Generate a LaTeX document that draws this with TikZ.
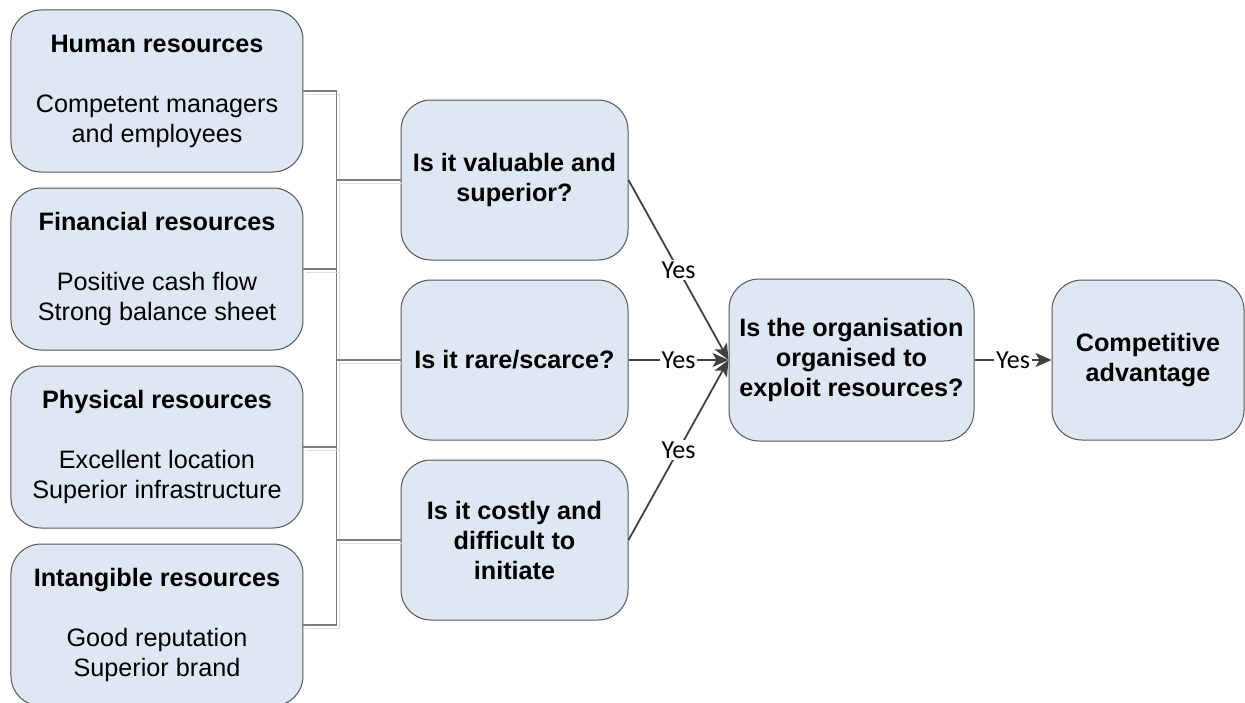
\documentclass[tikz,border=0pt]{standalone}
\usepackage{fontspec}
\setmainfont{Liberation Sans}
\newfontfamily\yesfont{Carlito}
\usepackage{xcolor}
\usepackage{tikz}
\usetikzlibrary{positioning, arrows.meta}

\definecolor{boxfill}{RGB}{222,232,242}
\definecolor{boxline}{RGB}{85,85,85}
\definecolor{busline}{RGB}{125,125,125}
\definecolor{busshade}{RGB}{222,222,222}
\definecolor{arrline}{RGB}{64,64,64}

\begin{document}
\begin{tikzpicture}[node distance=90pt,on grid,
    res/.style={draw=boxline, fill=boxfill, line width=0.5pt, rounded corners=15pt, minimum width=146pt, minimum height=81pt, align=center, inner sep=2pt, font=\fontsize{12.6}{15}\selectfont},
    ques/.style={res, minimum width=113.5pt, minimum height=80pt, font=\bfseries\fontsize{12.6}{15}\selectfont},
    bus/.style={draw=busline, line width=0.6pt, preaction={draw=busshade, transform canvas={shift={(1.5pt,-1.5pt)}}}},
    yes/.style={->, color=arrline, line width=0.9pt, >={Stealth[length=8pt,width=7pt,inset=2pt]}},
    lbl/.style={fill=white, inner sep=1pt, text=black, font=\yesfont\fontsize{13}{14}\selectfont}]
   \useasboundingbox (-257.25pt,-171pt) rectangle (365.25pt,180pt);

   % the three questions
   \node[ques] (rare) at (0,0) {Is it rare/scarce?};
   \node[ques] (val) [above=of rare] {Is it valuable and\\superior?};
   \node[ques] (cost) [below=of rare] {Is it costly and\\difficult to\\initiate};
   \node[ques, minimum width=122.5pt, minimum height=81pt] (org) [right=168.5pt of rare] {Is the organisation\\organised to\\exploit resources?};
   \node[ques, minimum width=96pt] (comp) [right=148.25pt of org] {Competitive\\advantage};

   % resources
   \node[res] (hr) [above left=134.5pt and 178.75pt of rare] {\textbf{Human resources}\\[15pt]Competent managers\\and employees};
   \node[res] (fr) [below=89pt of hr] {\textbf{Financial resources}\\[15pt]Positive cash flow\\Strong balance sheet};
   \node[res] (pr) [below=89pt of fr] {\textbf{Physical resources}\\[15pt]Excellent location\\Superior infrastructure};
   \node[res] (ir) [below=89pt of pr] {\textbf{Intangible resources}\\[15pt]Good reputation\\Superior brand};

   \coordinate (bustop) at ([xshift=16.5pt]hr.east);
   \coordinate (busbot) at ([xshift=16.5pt]ir.east);
   \draw[bus] (hr.east) -- (bustop) -- (busbot) -- (ir.east);
   \foreach \r in {fr, pr} \draw[bus] (\r.east) -- (\r.east -| bustop);
   \foreach \q in {val, rare, cost} \draw[bus] (\q.west -| bustop) -- (\q.west);

   \path[yes]
    (val.east) edge node[lbl] {Yes} (org.west)
    (rare) edge node[lbl] {Yes} (org)
    (cost.east) edge node[lbl] {Yes} (org.west)
    (org) edge node[lbl] {Yes} (comp);
\end{tikzpicture}
\end{document}
